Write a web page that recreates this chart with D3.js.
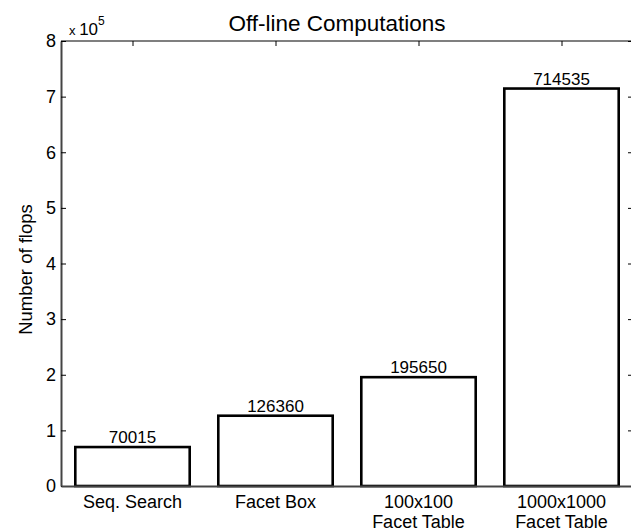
<!DOCTYPE html>
<html>
<head>
<meta charset="utf-8">
<script src="https://cdn.jsdelivr.net/npm/d3@7"></script>
<style>
  html, body { margin: 0; padding: 0; background: #fff; }
  svg { display: block; }
  text { font-family: "Liberation Sans", Arial, Helvetica, sans-serif; fill: #000; }
</style>
</head>
<body>
<svg id="chart" width="631" height="532"></svg>
<script>
// Off-line computation cost, in flops, per method
const categories = [["Seq. Search"], ["Facet Box"], ["100x100", "Facet Table"], ["1000x1000", "Facet Table"]];
const flops = [70015, 126360, 195650, 714535];
const yTicks = [0, 1, 2, 3, 4, 5, 6, 7, 8];   // in units of 10^5
const exponent = 5;

const plot = { left: 61, right: 633, top: 41, bottom: 486 };

const svg = d3.select("#chart");

const x = d3.scaleLinear().domain([0.5, categories.length + 0.5]).range([plot.left, plot.right]);
const y = d3.scaleLinear().domain([0, 8 * Math.pow(10, exponent)]).range([plot.bottom, plot.top]);
const barW = (x(2) - x(1)) * 0.8;
const tickLen = 5;
const FONT = "Liberation Sans, Arial, Helvetica, sans-serif";

// Axes box: top and right edges
const box = svg.append("g");
box.append("line").attr("x1", plot.left).attr("x2", plot.right).attr("y1", plot.top).attr("y2", plot.top)
  .attr("stroke", "#000").attr("stroke-width", 1.2);
box.append("line").attr("x1", plot.right).attr("x2", plot.right).attr("y1", plot.top).attr("y2", plot.bottom)
  .attr("stroke", "#000").attr("stroke-width", 1.2);

// Bars
svg.append("g").selectAll("rect").data(flops).join("rect")
  .attr("x", (d, i) => x(i + 1) - barW / 2)
  .attr("y", d => y(d))
  .attr("width", barW)
  .attr("height", d => y(0) - y(d))
  .attr("fill", "#fff")
  .attr("stroke", "#000")
  .attr("stroke-width", 2.6);

// Value labels above bars
svg.append("g").selectAll("text").data(flops).join("text")
  .attr("x", (d, i) => x(i + 1))
  .attr("y", d => y(d) - 4)
  .attr("text-anchor", "middle")
  .attr("font-size", 17)
  .text(d => d);

// Left y axis
const yAxisL = d3.axisLeft(y)
  .tickValues(yTicks.map(t => t * Math.pow(10, exponent)))
  .tickFormat(d => d / Math.pow(10, exponent))
  .tickSizeInner(-tickLen).tickSizeOuter(0).tickPadding(5);
const gL = svg.append("g").attr("transform", `translate(${plot.left},0)`).call(yAxisL);
gL.select(".domain").attr("stroke", "#444").attr("stroke-width", 2);
gL.selectAll(".tick line").attr("stroke", "#000");
gL.selectAll(".tick text").attr("font-size", 18).attr("font-family", FONT).attr("fill", "#000");

// Right y axis ticks
const yAxisR = d3.axisRight(y)
  .tickValues(yTicks.map(t => t * Math.pow(10, exponent)))
  .tickFormat("").tickSizeInner(-tickLen).tickSizeOuter(0);
const gR = svg.append("g").attr("transform", `translate(${plot.right},0)`).call(yAxisR);
gR.select(".domain").remove();

// Bottom x axis with category labels
const xTicks = categories.map((c, i) => i + 1);
const xAxisB = d3.axisBottom(x).tickValues(xTicks).tickFormat("").tickSizeInner(-tickLen).tickSizeOuter(0);
const gB = svg.append("g").attr("transform", `translate(0,${plot.bottom})`).call(xAxisB);
gB.select(".domain").attr("stroke", "#444").attr("stroke-width", 2);
gB.selectAll(".tick line").remove();

svg.append("g").selectAll("text").data(categories).join("text")
  .attr("x", (d, i) => x(i + 1))
  .attr("y", plot.bottom + 22)
  .attr("text-anchor", "middle")
  .attr("font-size", 18)
  .selectAll("tspan").data(d => d).join("tspan")
  .attr("x", function () { return d3.select(this.parentNode).attr("x"); })
  .attr("dy", (d, j) => j === 0 ? 0 : 20)
  .text(d => d);

// Top x axis ticks
const xAxisT = d3.axisTop(x).tickValues(xTicks).tickFormat("").tickSizeInner(-tickLen).tickSizeOuter(0);
const gT = svg.append("g").attr("transform", `translate(0,${plot.top})`).call(xAxisT);
gT.select(".domain").remove();

// Exponent label
const expLabel = svg.append("text").attr("x", plot.left + 8).attr("y", 35);
expLabel.append("tspan").attr("font-size", 13).text("x ");
expLabel.append("tspan").attr("font-size", 17).text("10");
expLabel.append("tspan").attr("font-size", 12).attr("dy", -10).text(exponent);

// Title
svg.append("text")
  .attr("x", 337).attr("y", 31)
  .attr("text-anchor", "middle")
  .attr("font-size", 22.5)
  .text("Off-line Computations");

// Y axis label
svg.append("text")
  .attr("transform", `translate(32,${(plot.top + plot.bottom) / 2 + 6}) rotate(-90)`)
  .attr("text-anchor", "middle")
  .attr("font-size", 18.5)
  .text("Number of flops");
</script>
</body>
</html>
